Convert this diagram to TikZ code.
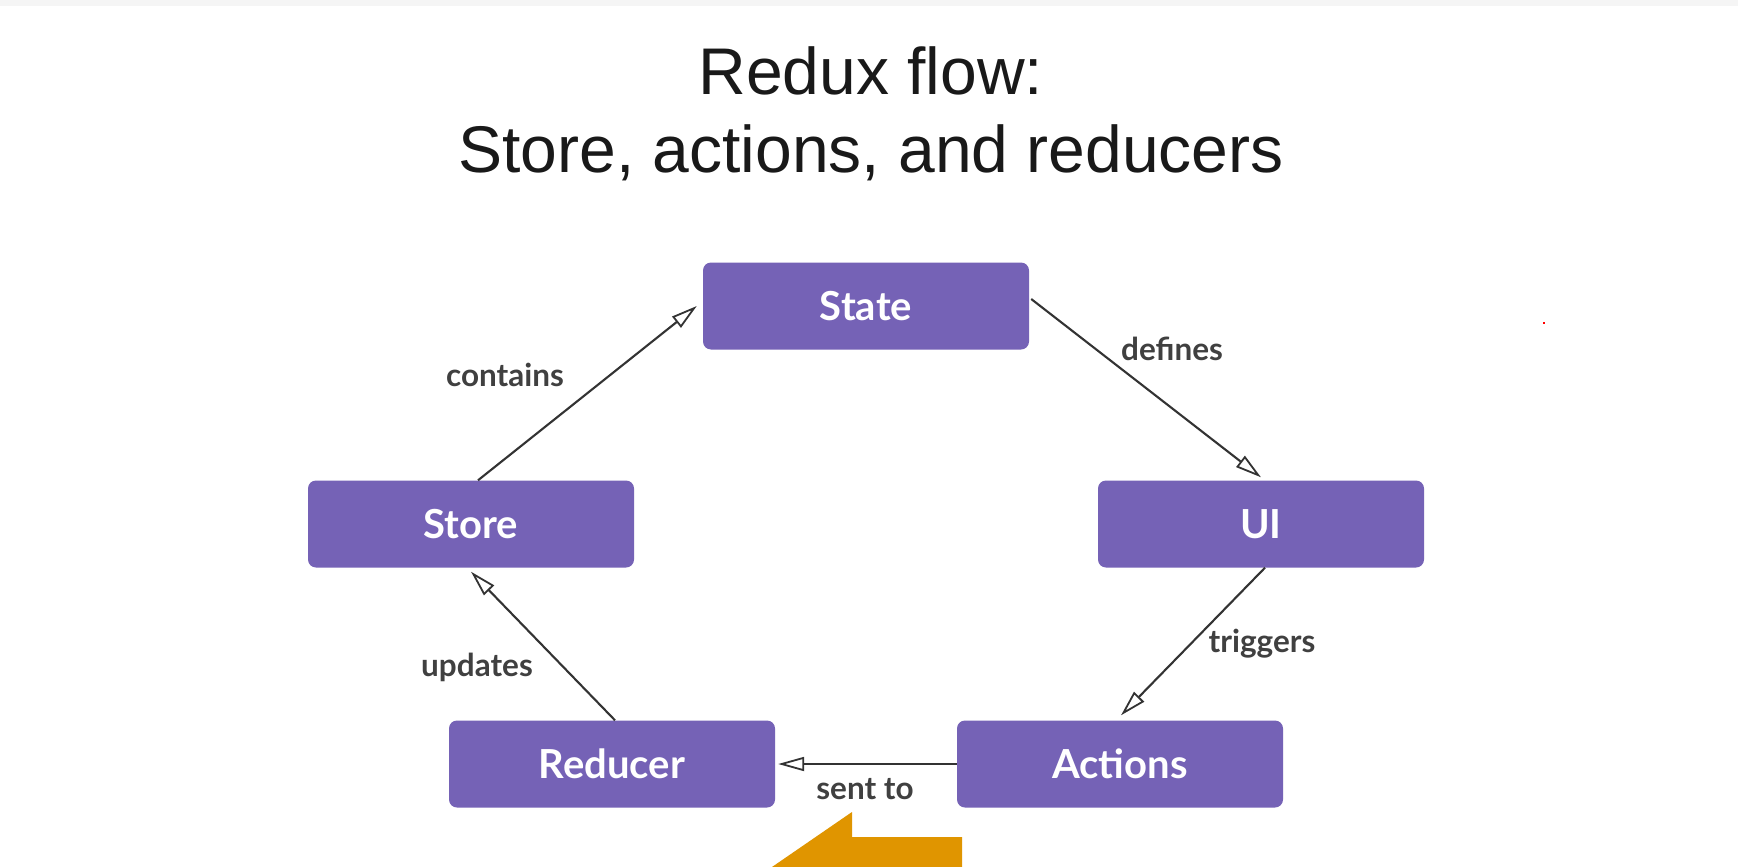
\documentclass[tikz,border=0pt]{standalone}
\usepackage{fontspec}
\setmainfont{Liberation Sans}
\newfontfamily\lato{Lato}
\usetikzlibrary{arrows.meta,calc}
\definecolor{boxpurple}{HTML}{7562B6}
\definecolor{linegray}{HTML}{333333}
\definecolor{labelgray}{HTML}{404040}
\definecolor{arroworange}{HTML}{E09500}
\tikzset{
  flowbox/.style={fill=boxpurple, rounded corners=8pt, minimum width=326pt, minimum height=87pt, inner sep=0pt,
    text=white, font=\lato\bfseries\fontsize{40}{46}\selectfont},
  flowarrow/.style={draw=linegray, line width=2.1pt, -{Triangle[open, length=26pt, width=14pt, line width=1.8pt]}},
  flowlabel/.style={text=labelgray, font=\lato\bfseries\fontsize{31.5}{36}\selectfont, inner sep=0pt},
  titletext/.style={font=\fontsize{66}{76}\selectfont, text=black!90, inner sep=0pt, anchor=base}
}
\begin{document}
\begin{tikzpicture}[x=1pt,y=-1pt]
\useasboundingbox (0,0) rectangle (1738,867);
\fill[white] (0,0) rectangle (1738,867);
\fill[black!4] (0,0) rectangle (1738,6);
\node[titletext] (t1) at (871,94) {Redux flow:};
\node[titletext] (t2) at (871,172) {Store, actions, and reducers};
\node[flowbox] (state) at (866,306) {State};
\node[flowbox] (store) at (471,524) {Store};
\node[flowbox] (ui) at (1261,524) {UI};
\node[flowbox] (reducer) at (612,764) {Reducer};
\node[flowbox] (actions) at (1120,764) {Actions};
\draw[flowarrow] ($(store.north)+(7,0)$) -- ($(state.west)+(-6,0)$);
\draw[flowarrow] ($(state.east)+(2,-7)$) -- ($(ui.north)+(0,-3)$);
\draw[flowarrow] ($(ui.south)+(4,0)$) -- ($(actions.north)+(1,-5)$);
\draw[flowarrow] (actions.west) -- ($(reducer.east)+(3,0)$);
\draw[flowarrow] ($(reducer.north)+(3,0)$) -- ($(store.south)+(0,4)$);
\node[flowlabel] (lcontains) at (505,375) {contains};
\node[flowlabel] (ldefines) at (1172,349) {defines};
\node[flowlabel] (ltriggers) at (1262,644) {triggers};
\node[flowlabel] (lupdates) at (477,667) {updates};
\node[flowlabel] (lsent) at (865,789) {sent to};
\fill[arroworange] (772,867) -- (852,812) -- (852,837) -- (962,837) -- (962,867) -- cycle;
\fill[red] (1543,322) rectangle (1545,324);
\end{tikzpicture}
\end{document}
